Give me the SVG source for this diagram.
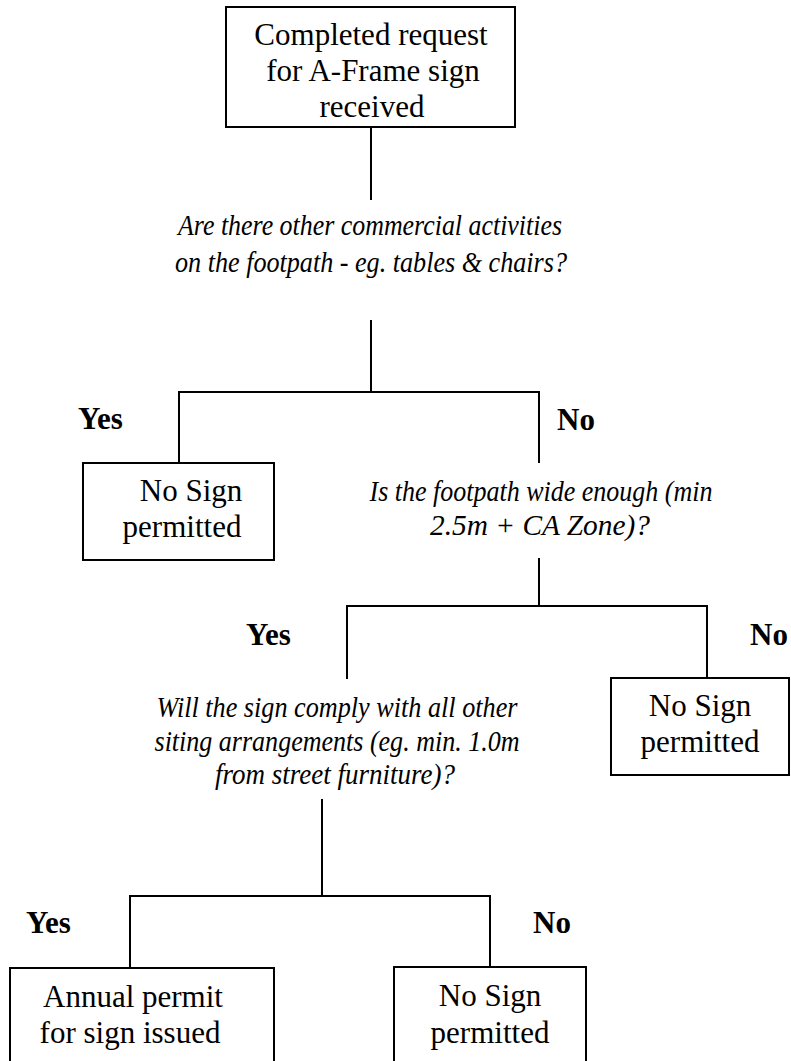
<svg xmlns="http://www.w3.org/2000/svg" width="791" height="1061" viewBox="0 0 791 1061">
<style>
  .box { fill: #fff; stroke: #000; stroke-width: 2; }
  .conn { fill: none; stroke: #000; stroke-width: 2; }
  .t { font-family: "Liberation Serif", "Times New Roman", serif; font-size: 31px; fill: #000; text-anchor: middle; }
  .q { font-family: "Liberation Serif", "Times New Roman", serif; font-size: 29px; font-style: italic; fill: #000; text-anchor: middle; }
  .lbl { font-family: "Liberation Serif", "Times New Roman", serif; font-size: 31px; font-weight: bold; fill: #000; }
</style>
<rect width="791" height="1061" fill="#fff"/>
<g id="connectors">
  <path class="conn" d="M371,127 V200"/>
  <path class="conn" d="M371,320 V392 M179,463 V392 H539 V463"/>
  <path class="conn" d="M539,558 V606 M347,679 V606 H707 V678"/>
  <path class="conn" d="M322,799 V896 M130,968 V896 H490 V967"/>
</g>
<g id="start">
  <rect class="box" x="226" y="7" width="289" height="120"/>
  <text class="t" x="371" y="45">Completed request</text>
  <text class="t" x="373" y="81">for A-Frame sign</text>
  <text class="t" x="372" y="117">received</text>
</g>
<g id="q1">
  <text class="q" x="370" y="235" textLength="384" lengthAdjust="spacingAndGlyphs">Are there other commercial activities</text>
  <text class="q" x="371" y="272" textLength="392" lengthAdjust="spacingAndGlyphs">on the footpath - eg. tables &amp; chairs?</text>
</g>
<g id="q1-yes-label"><text class="lbl" x="78" y="429">Yes</text></g>
<g id="q1-no-label"><text class="lbl" x="557" y="430">No</text></g>
<g id="nosign1">
  <rect class="box" x="83" y="463" width="191" height="97"/>
  <text class="t" x="191" y="501">No Sign</text>
  <text class="t" x="182" y="537">permitted</text>
</g>
<g id="q2">
  <text class="q" x="541" y="501" textLength="343" lengthAdjust="spacingAndGlyphs">Is the footpath wide enough (min</text>
  <text class="q" x="540" y="535" textLength="220" lengthAdjust="spacingAndGlyphs">2.5m + CA Zone)?</text>
</g>
<g id="q2-yes-label"><text class="lbl" x="246" y="645">Yes</text></g>
<g id="q2-no-label"><text class="lbl" x="750" y="645">No</text></g>
<g id="nosign2">
  <rect class="box" x="611" y="678" width="178" height="97"/>
  <text class="t" x="700" y="716">No Sign</text>
  <text class="t" x="700" y="752">permitted</text>
</g>
<g id="q3">
  <text class="q" x="337" y="717" textLength="361" lengthAdjust="spacingAndGlyphs">Will the sign comply with all other</text>
  <text class="q" x="337" y="751" textLength="365" lengthAdjust="spacingAndGlyphs">siting arrangements (eg. min. 1.0m</text>
  <text class="q" x="335" y="784" textLength="240" lengthAdjust="spacingAndGlyphs">from street furniture)?</text>
</g>
<g id="q3-yes-label"><text class="lbl" x="26" y="933">Yes</text></g>
<g id="q3-no-label"><text class="lbl" x="533" y="933">No</text></g>
<g id="permit">
  <rect class="box" x="10" y="968" width="264" height="110"/>
  <text class="t" x="133" y="1007">Annual permit</text>
  <text class="t" x="130" y="1043">for sign issued</text>
</g>
<g id="nosign3">
  <rect class="box" x="394" y="967" width="192" height="110"/>
  <text class="t" x="490" y="1006">No Sign</text>
  <text class="t" x="490" y="1043">permitted</text>
</g>
</svg>
